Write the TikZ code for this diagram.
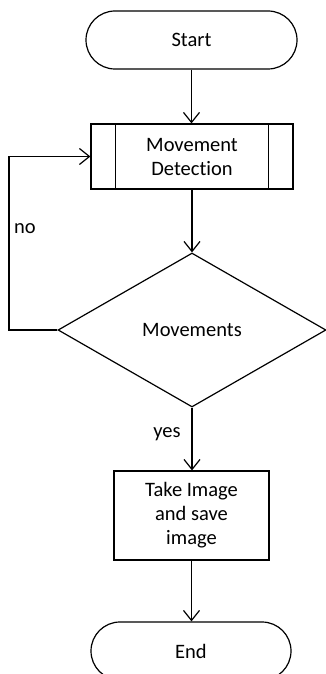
\documentclass[tikz,border=0pt]{standalone}
\usepackage{fontspec}
\setmainfont{Carlito}[Ligatures={NoCommon,NoDiscretionary,NoRare,NoHistoric}]
\usetikzlibrary{shapes.geometric,arrows.meta,calc}
\begin{document}
\begin{tikzpicture}[x=1pt,y=-1pt,
  line width=1.2pt,
  every node/.style={font=\fontsize{20.5}{24}\selectfont, align=center, inner sep=0pt},
  term/.style={draw, rectangle, rounded corners=29pt, minimum height=58pt},
  procbox/.style={draw, rectangle},
  decision/.style={draw, diamond, aspect=1.74, minimum width=268pt, minimum height=154pt},
  arr/.style={-{Straight Barb[length=10pt,width=16pt,line width=1.2pt]}},
  lbl/.style={font=\fontsize{20.5}{24}\selectfont}
]
\useasboundingbox (0,0) rectangle (326,674);
\clip (0,0) rectangle (326,674);
\node[term, minimum width=211pt] (start) at (191.5,40) {Start};
\node[procbox, minimum width=202pt, minimum height=65pt] (detect) at (192,156.5) {Movement\\Detection};
\draw ($(detect.north west)+(25,0)$) -- ($(detect.south west)+(25,0)$);
\draw ($(detect.north east)+(-25,0)$) -- ($(detect.south east)+(-25,0)$);
\node[decision] (dec) at (192,330) {Movements};
\node[procbox, minimum width=155pt, minimum height=89pt] (take) at (191.5,515.5) {Take Image\\and save\\image};
\node[term, minimum width=200pt] (end) at (191,651) {End};
\coordinate (lc) at (9,330);
\draw[arr] (start.south) -- (detect.north -| start.south);
\draw[arr] (detect.south) -- (dec.north);
\draw[arr] (dec.west) -- (lc) |- (detect.west);
\draw[arr] (dec.south) -- (take.north -| dec.south);
\draw[arr] (take.south) -- (end.north -| take.south);
\node[lbl] (no) at (25,229) {no};
\node[lbl] (yes) at (167,434) {yes};
\end{tikzpicture}
\end{document}
